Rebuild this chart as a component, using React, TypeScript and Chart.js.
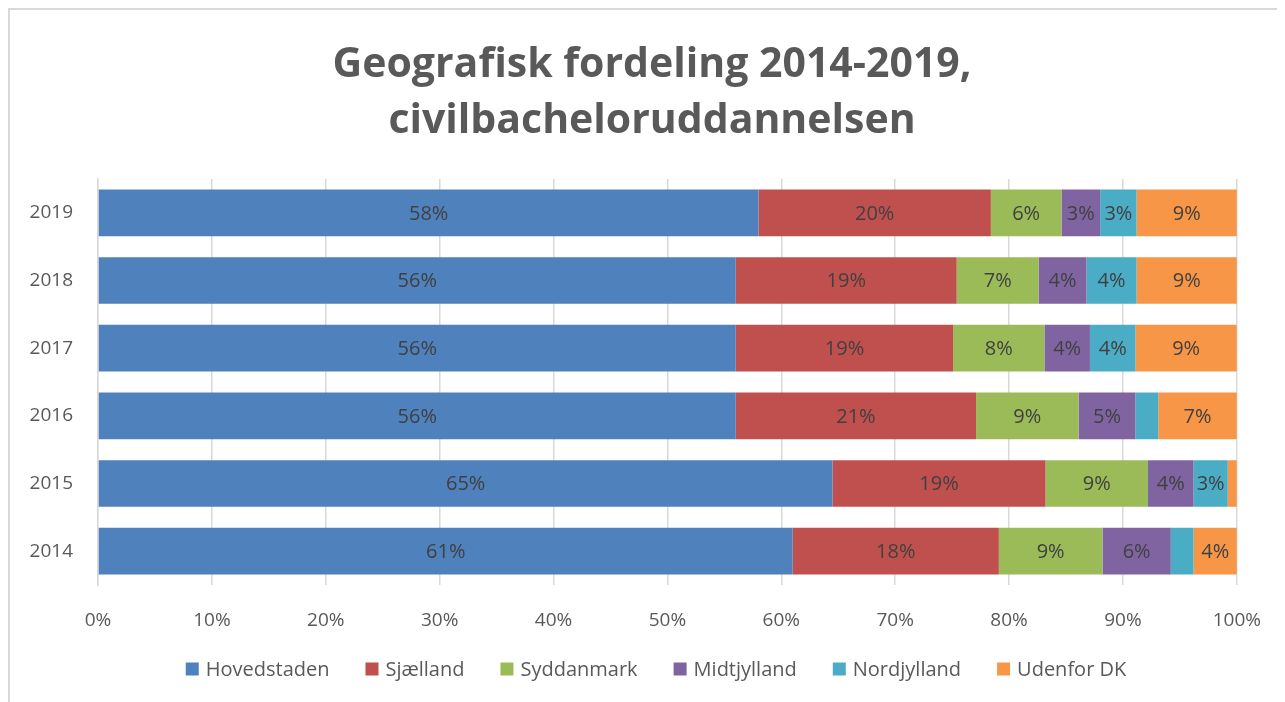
import React, { useEffect, useRef } from "react";
import { Chart, registerables } from "chart.js";

Chart.register(...registerables);

const categories = ["2019", "2018", "2017", "2016", "2015", "2014"];
const seriesNames = ["Hovedstaden", "Sjælland", "Syddanmark", "Midtjylland", "Nordjylland", "Udenfor DK"];
const hovedstaden = [58.0, 56.0, 56.0, 56.0, 64.5, 61.0];
const sjaelland = [20.4, 19.4, 19.1, 21.1, 18.7, 18.1];
const syddanmark = [6.2, 7.2, 8.0, 9.0, 9.0, 9.1];
const midtjylland = [3.4, 4.2, 4.0, 5.0, 4.0, 6.0];
const nordjylland = [3.2, 4.4, 4.0, 2.0, 3.0, 2.0];
const udenfor = [8.8, 8.8, 8.9, 6.9, 0.8, 3.8];
const xTicks = [0, 10, 20, 30, 40, 50, 60, 70, 80, 90, 100];
const titleLines = ["Geografisk fordeling 2014-2019,", "civilbacheloruddannelsen"];

const colors = ["#4F81BD", "#C0504D", "#9BBB59", "#8064A2", "#4BACC6", "#F79646"];
const FONT = "'Open Sans', sans-serif";

const labelPlugin = {
  id: "segLabels",
  afterDatasetsDraw(chart: any) {
    const ctx = chart.ctx;
    ctx.save();
    ctx.font = `20px ${FONT}`;
    ctx.fillStyle = "#404040";
    ctx.textAlign = "center";
    ctx.textBaseline = "middle";
    chart.data.datasets.forEach((ds: any, di: number) => {
      const meta = chart.getDatasetMeta(di);
      meta.data.forEach((el: any, i: number) => {
        const v = ds.data[i];
        if (v < 2.5) return;
        const { x, y, base } = el.getProps(["x", "y", "base"], true);
        ctx.fillText(Math.round(v) + "%", (x + base) / 2, y + 1);
      });
    });
    ctx.restore();
  },
};

const titleLegendPlugin = {
  id: "titleLegend",
  afterDraw(chart: any) {
    const ctx = chart.ctx;
    ctx.save();
    // title
    ctx.font = `bold 41px ${FONT}`;
    ctx.fillStyle = "#595959";
    ctx.textAlign = "center";
    ctx.textBaseline = "middle";
    const cx = 642;
    titleLines.forEach((t, i) => ctx.fillText(t, cx, 55 + i * 56));
    // legend
    ctx.font = `20px ${FONT}`;
    ctx.textAlign = "left";
    const box = 13;
    const gapText = 7;
    const gapItem = 36;
    const widths = chart.data.datasets.map((d: any) => ctx.measureText(d.label).width);
    const total = widths.reduce((a: number, w: number) => a + box + gapText + w, 0) + gapItem * (widths.length - 1);
    let x = 646 - total / 2;
    const y = 659;
    chart.data.datasets.forEach((d: any, i: number) => {
      ctx.fillStyle = d.backgroundColor;
      ctx.fillRect(x, y - box / 2, box, box);
      ctx.fillStyle = "#595959";
      ctx.fillText(d.label, x + box + gapText, y + 1);
      x += box + gapText + widths[i] + gapItem;
    });
    ctx.restore();
  },
};

export default function App() {
  const ref = useRef<HTMLCanvasElement>(null);
  useEffect(() => {
    document.body.style.overflow = "hidden";
    document.documentElement.style.overflow = "hidden";
    const all = [hovedstaden, sjaelland, syddanmark, midtjylland, nordjylland, udenfor];
    const chart = new Chart(ref.current!, {
      type: "bar",
      data: {
        labels: categories,
        datasets: all.map((d, i) => ({
          label: seriesNames[i],
          data: d,
          backgroundColor: colors[i],
          borderWidth: 0,
          barPercentage: 0.69,
          categoryPercentage: 1,
        })),
      },
      options: {
        indexAxis: "y",
        animation: false,
        responsive: false,
        maintainAspectRatio: false,
        layout: { padding: { left: 0, right: 46, top: 169, bottom: 44 } },
        plugins: {
          tooltip: { enabled: false },
          title: { display: false },
          legend: { display: false },
        },
        scales: {
          x: {
            stacked: true,
            min: 0,
            max: 100,
            afterBuildTicks: (scale: any) => {
              scale.ticks = xTicks.map((v) => ({ value: v }));
            },
            afterFit: (scale: any) => {
              scale.height = 65;
            },
            ticks: {
              color: "#595959",
              font: { family: FONT, size: 19 },
              padding: 24,
              callback: (v: any) => v + "%",
            },
            grid: { color: "#d9d9d9", lineWidth: 1.5, drawTicks: false },
            border: { display: false },
          },
          y: {
            stacked: true,
            afterFit: (scale: any) => {
              scale.width = 88;
            },
            ticks: {
              color: "#595959",
              font: { family: FONT, size: 19 },
              padding: 25,
            },
            grid: { display: false, drawTicks: false },
            border: { display: true, color: "#d9d9d9", width: 1.5 },
          },
        },
      },
      plugins: [labelPlugin, titleLegendPlugin],
    } as any);
    return () => chart.destroy();
  }, []);
  return (
    <div
      style={{
        width: 1275,
        height: 700,
        borderTop: "2px solid #d9d9d9",
        borderLeft: "2px solid #d9d9d9",
      }}
    >
      <canvas ref={ref} width={1275} height={684} style={{ display: "block" }} />
    </div>
  );
}
